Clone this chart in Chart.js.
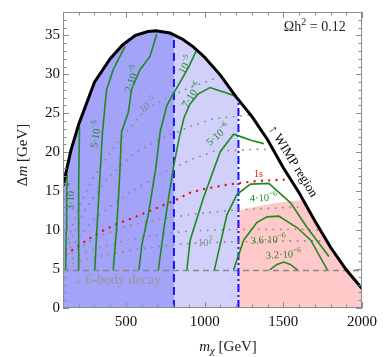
<!DOCTYPE html>
<html><head><meta charset="utf-8">
<script src="https://cdn.jsdelivr.net/npm/chart.js@4/dist/chart.umd.min.js"></script>
<style>html,body{margin:0;padding:0;background:#fff}#wrap{width:389px;height:357px;position:relative}</style>
</head><body><div id="wrap"><canvas id="c" width="389" height="357"></canvas></div>
<script>
// ---------- data ----------
const xRange = [100, 2000];
const yRange = [0, 38];
const xTickLabels = [500, 1000, 1500, 2000];
const yTickLabels = [0, 5, 10, 15, 20, 25, 30, 35];
const regionCuts = [805, 1215];          // blue dashed / dash-dotted boundaries
const sixBodyLevel = 4.8;

const wimpBoundary = [[100,15.7],[150,20.2],[200,23.6],[300,29.0],[400,32.0],[480,33.8],[560,35.0],[640,35.5],[690,35.6],[780,35.3],[860,34.5],[930,33.5],[1000,32.2],[1100,29.9],[1200,27.1],[1300,24.6],[1400,21.6],[1500,18.0],[1600,14.8],[1700,11.2],[1800,7.8],[1900,4.9],[2000,2.5]];
const pinkTop = [[1215,12.5],[1300,12.9],[1400,13.3],[1500,13.6],[1600,13.8],[1750,14.0]];

const green_3e4 = [[117,4.9],[120,10],[123,14],[126,17.2]];
const green_1e4 = [[196,4.9],[198,10],[201,16],[205,23.2]];
const green_5e5 = [[302,4.9],[315,10],[332,16],[351,22.6],[377,28],[419,30.6],[494,33.6]];
const green_2e5 = [[419,4.9],[440,10],[458,16],[472,22.6],[515,25.1],[536,28.1],[589,30.6],[653,32.3],[696,35.2]];
const green_1e5 = [[583,4.9],[600,8],[642,12],[690,18],[717,22.6],[760,26],[800,27.5],[830,28.5],[900,31],[951,33.2]];
const green_7e6 = [[706,4.9],[740,10],[770,14],[801,18],[840,22],[870,24.5],[907,26.2],[960,27.5],[1035,28.3],[1080,28],[1140,27.6],[1196,27.2]];
const green_5e6 = [[887,4.9],[908,8.7],[993,14.2],[1100,20.1],[1184,22.3],[1229,22],[1300,21.5],[1376,21.1]];
const green_4e6 = [[1062,4.9],[1142,12],[1206,14.6],[1291,15.9],[1408,16],[1546,13.5],[1652,10.3],[1790,6.6]];
const green_36e6 = [[1184,4.9],[1248,8.7],[1333,11],[1397,11.7],[1471,11.8],[1589,10.3],[1674,8.7],[1780,4.9]];
const green_32e6 = [[1414,4.9],[1460,5.6],[1503,5.9],[1545,5.6],[1589,4.9]];

const red_1s = [[120,6.9],[185,7.8],[266,8.9],[351,9.9],[444,10.8],[536,11.5],[632,12.3],[727,13.1],[819,13.9],[908,14.8],[1000,15.3],[1163,15.9],[1333,16.3],[1525,16.5]];

const gray_1e3m = [[120,8],[200,13],[300,17],[400,20],[504,22.6],[632,25.6],[759,27],[929,28.5],[1035,29.2],[1100,29.9]];
const gray_b = [[120,7.5],[250,13],[400,17],[550,19.8],[700,21.5],[908,23.3],[1057,24.3],[1248,24.7],[1290,24.8]];
const gray_c = [[120,7],[300,11.5],[500,14.5],[700,17],[908,19],[1057,20.1],[1355,20.4],[1420,20.3]];
const gray_d = [[120,6.5],[300,9],[500,10.5],[700,11.3],[908,12],[1200,12.6],[1525,12.9],[1630,13]];
const gray_e = [[120,6],[300,7.6],[500,8.7],[700,9.4],[908,9.9],[1200,10.1],[1600,10.1],[1720,10]];
const gray_1e3 = [[120,5.5],[300,6.5],[500,7.3],[700,7.9],[908,8.3],[1200,8.5],[1500,8.6],[1770,8.6]];

// ---------- helpers ----------
function lerp(arr, x){
  for(let i=0;i<arr.length-1;i++){const [x0,y0]=arr[i],[x1,y1]=arr[i+1]; if(x>=x0&&x<=x1) return y0+(y1-y0)*(x-x0)/(x1-x0);} return NaN;
}
function slice(arr,a,b){const out=[[a,lerp(arr,a)]]; arr.forEach(p=>{if(p[0]>a&&p[0]<b) out.push(p)}); out.push([b,lerp(arr,b)]); return out;}
function minEnv(a,b,x0,x1){
  const f=x=>{const ya=lerp(a,x),yb=lerp(b,x); if(isNaN(ya)) return yb; if(isNaN(yb)) return ya; return Math.min(ya,yb);};
  let xs=[...new Set([...a.map(p=>p[0]),...b.map(p=>p[0]),x0,x1])].filter(x=>x>=x0&&x<=x1).sort((p,q)=>p-q);
  const extra=[];
  for(let i=0;i<xs.length-1;i++){const u=xs[i],v=xs[i+1];const du=lerp(a,u)-lerp(b,u),dv=lerp(a,v)-lerp(b,v);
    if(!isNaN(du)&&!isNaN(dv)&&du*dv<0) extra.push(u+(v-u)*du/(du-dv));}
  xs=xs.concat(extra).sort((p,q)=>p-q);
  return xs.map(x=>[x,f(x)]);
}
const P = arr => arr.map(([x,y])=>({x,y}));

const GREEN='#1f8a1f', BLUE='#1414ff', GRAY='#8a8a8a', RED='#ee1111';
const lineDs=(arr,color,w,dash,order,cap)=>({data:P(arr),borderColor:color,borderWidth:w,borderDash:dash||[],pointRadius:0,fill:false,order:order,borderCapStyle:cap||'butt',tension:0});
const fillDs=(arr,color,order)=>({data:P(arr),borderWidth:0,borderColor:'rgba(0,0,0,0)',backgroundColor:color,pointRadius:0,fill:'origin',order:order,tension:0});

const datasets=[
  lineDs(wimpBoundary,'#000',3,[],0,'round'),
  lineDs(red_1s,RED,2.4,[0.1,7.2],2,'round'),
  ...[gray_1e3m,gray_b,gray_c,gray_d,gray_e,gray_1e3].map(a=>lineDs(a,GRAY,1.8,[0.1,7.2],3,'round')),
  ...[green_3e4,green_1e4,green_5e5,green_2e5,green_1e5,green_7e6,green_5e6,green_4e6,green_36e6,green_32e6].map(a=>lineDs(a,GREEN,1.6,[],1)),
  lineDs([[regionCuts[0],0],[regionCuts[0],lerp(wimpBoundary,regionCuts[0])]],BLUE,2,[8,5],4),
  lineDs([[regionCuts[1],0],[regionCuts[1],lerp(wimpBoundary,regionCuts[1])]],BLUE,2,[8,3,2,3],4),
  lineDs([[xRange[0],sixBodyLevel],[xRange[1],sixBodyLevel]],'#888',1.5,[6,4],5),
  fillDs(slice(wimpBoundary,xRange[0],regionCuts[0]),'#a3a3fa',10),
  fillDs(slice(wimpBoundary,regionCuts[0],regionCuts[1]),'#d0d0fb',10),
  fillDs(minEnv(pinkTop,slice(wimpBoundary,regionCuts[1],xRange[1]),regionCuts[1],xRange[1]),'#ffc9c9',10),
];

// ---------- text annotations (data coords) ----------
const SERIF='"Liberation Serif","DejaVu Serif",serif';
const notes=[
  {segs:[['3·10',0],['−4',1]],x:152,y:14.3,rot:-88,color:GREEN,size:10.5},
  {segs:[['5·10',0],['−5',1]],x:313,y:22.3,rot:-82,color:GREEN,size:10.5},
  {segs:[['2·10',0],['−5',1]],x:543,y:29.4,rot:-72,color:GREEN,size:10.5},
  {segs:[['10',0],['−5',1]],x:883,y:31.2,rot:-62,color:GREEN,size:10.5},
  {segs:[['7·10',0],['−6',1]],x:921,y:27.3,rot:-57,color:GREEN,size:10.5},
  {segs:[['5·10',0],['−6',1]],x:1087,y:22.2,rot:-42,color:GREEN,size:10.5},
  {segs:[['4·10',0],['−6',1]],x:1374,y:14.1,rot:-3,color:GREEN,size:10.5},
  {segs:[['3.6·10',0],['−6',1]],x:1405,y:8.7,rot:-3,color:GREEN,size:10.5},
  {segs:[['3.2·10',0],['−6',1]],x:1501,y:6.8,rot:-3,color:GREEN,size:10.5},
  {segs:[['10',0],['−3',1]],x:640,y:26.0,rot:-33,color:'#888',size:10.5},
  {segs:[['10',0],['3',1]],x:1003,y:8.3,rot:0,color:'#888',size:10.5},
  {segs:[['1s',0]],x:1342,y:17.2,rot:0,color:RED,size:10},
  {segs:[['↑ WIMP region',0]],x:1560,y:18.8,rot:58,color:'#000',size:13},
  {segs:[['↓ 6-body decay',0]],x:450,y:3.6,rot:0,color:'#999',size:14},
  {segs:[['Ωh',0],['2',1],[' = 0.12',0]],x:1700,y:36.0,rot:0,color:'#222',size:14},
];

function drawSegs(ctx,segs,size,color){
  let w=0; const parts=segs.map(([t,sup])=>{const fs=sup?size*0.72:size; ctx.font=fs+'px '+SERIF; const mw=ctx.measureText(t).width; const r={t,sup,fs,mw}; w+=mw; return r;});
  let x=-w/2; ctx.fillStyle=color; ctx.textBaseline='middle';
  parts.forEach(p=>{ctx.font=p.fs+'px '+SERIF; ctx.fillText(p.t,x,p.sup===1?-size*0.38:0); x+=p.mw;});
}

const decor={id:'decor',afterDatasetsDraw(chart){
  const {ctx,chartArea:a,scales:{x,y}}=chart;
  ctx.save();
  notes.forEach(n=>{ctx.save();ctx.translate(x.getPixelForValue(n.x),y.getPixelForValue(n.y));ctx.rotate(n.rot*Math.PI/180);drawSegs(ctx,n.segs,n.size,n.color);ctx.restore();});
  ctx.strokeStyle='#8c8c8c'; ctx.lineWidth=1;
  ctx.strokeRect(a.left+0.5,a.top+0.5,a.right-a.left-1,a.bottom-a.top-1);
  ctx.beginPath();
  for(let v=xRange[0];v<=xRange[1];v+=100){const px=Math.round(x.getPixelForValue(v))+0.5; const L=(v%500===0)?6:3.5;
    ctx.moveTo(px,a.bottom);ctx.lineTo(px,a.bottom-L);ctx.moveTo(px,a.top);ctx.lineTo(px,a.top+L);}
  for(let v=0;v<=yRange[1];v+=1){const py=Math.round(y.getPixelForValue(v))+0.5; const L=(v%5===0)?6:3.5;
    ctx.moveTo(a.left,py);ctx.lineTo(a.left+L,py);ctx.moveTo(a.right,py);ctx.lineTo(a.right-L,py);}
  ctx.stroke();
  ctx.fillStyle='#222'; ctx.textBaseline='alphabetic';
  let parts=[['m','italic 15px',0],['χ','italic 11px',1],[' [GeV]','15px',0]];
  let tw=0; parts.forEach(p=>{ctx.font=p[1]+' '+SERIF; p.w=ctx.measureText(p[0]).width; tw+=p.w;});
  let sx=228-tw/2; parts.forEach(p=>{ctx.font=p[1]+' '+SERIF; ctx.fillText(p[0],sx,p[2]?354:351); sx+=p.w;});
  ctx.save(); ctx.translate(27,155); ctx.rotate(-Math.PI/2);
  parts=[['Δ','15px'],['m','italic 15px'],[' [GeV]','15px']];
  tw=0; parts.forEach(p=>{ctx.font=p[1]+' '+SERIF; p.w=ctx.measureText(p[0]).width; tw+=p.w;});
  sx=-tw/2; parts.forEach(p=>{ctx.font=p[1]+' '+SERIF; ctx.fillText(p[0],sx,0); sx+=p.w;});
  ctx.restore();
  ctx.restore();
}};

new Chart(document.getElementById('c'),{
  type:'line',
  data:{datasets},
  options:{
    responsive:false,animation:false,devicePixelRatio:1,
    layout:{padding:{top:9,right:27,left:0,bottom:0}},
    plugins:{legend:{display:false},tooltip:{enabled:false}},
    elements:{line:{tension:0}},
    scales:{
      x:{type:'linear',min:xRange[0],max:xRange[1],
         grid:{display:false,drawTicks:false},border:{display:false},
         afterBuildTicks:s=>{s.ticks=xTickLabels.map(v=>({value:v}));},
         afterFit:s=>{s.height=49;},
         ticks:{padding:5,color:'#111',font:{family:SERIF,size:15},maxRotation:0,callback:v=>String(v)}},
      y:{type:'linear',min:yRange[0],max:yRange[1],
         grid:{display:false,drawTicks:false},border:{display:false},
         afterBuildTicks:s=>{s.ticks=yTickLabels.map(v=>({value:v}));},
         afterFit:s=>{s.width=63;},
         ticks:{padding:3,color:'#111',font:{family:SERIF,size:15},callback:v=>String(v)}}
    }
  },
  plugins:[decor]
});
</script></body></html>
